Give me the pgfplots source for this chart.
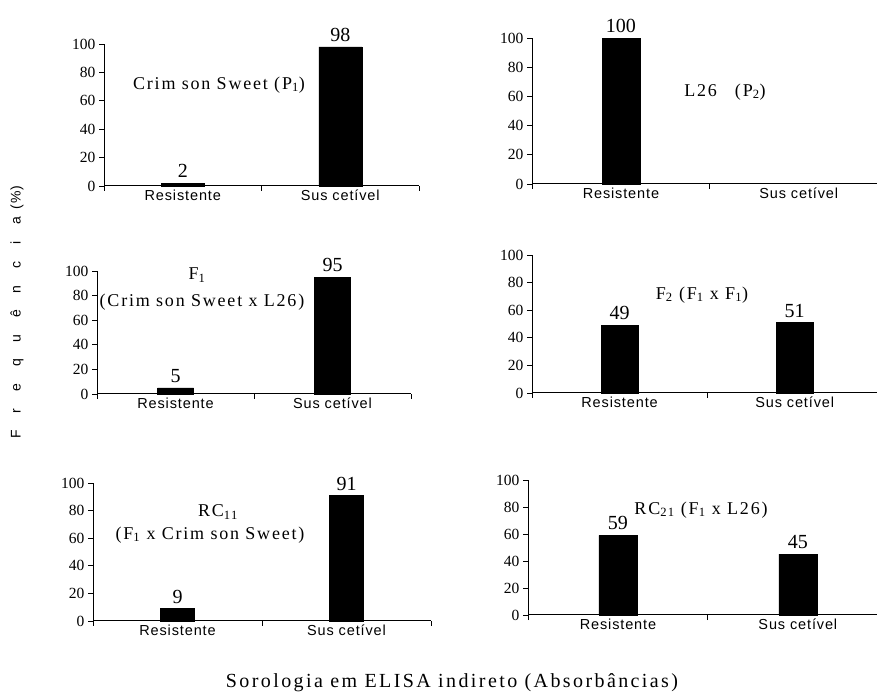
\documentclass[border=0pt]{standalone}
\usepackage{pgfplots}
\pgfplotsset{compat=1.18}
\usepackage{fontspec}
\setmainfont{Liberation Serif}
\newfontfamily\numfont{Liberation Serif}
\newfontfamily\notefont[LetterSpace=10]{Liberation Serif}
\newfontfamily\xtitlefont[LetterSpace=12]{Liberation Serif}
\newfontfamily\catfont[LetterSpace=6]{Liberation Sans}
\newfontfamily\ylabfont[LetterSpace=120]{Liberation Sans}
\newcommand\fs[1]{\fontsize{#1}{#1}\selectfont}

\pgfplotsset{
  panel/.style={
    scale only axis, anchor=south west,
    ymin=0, ymax=100, xmin=-0.5,
    axis x line=bottom, axis y line=left,
    x axis line style={-}, y axis line style={-},
    axis line style={line width=1pt},
    tick align=outside, major tick length=5pt,
    tick style={black, line width=0.9pt},
    ytick={0,20,...,100},
    xticklabels={},
    extra x ticks={0,1},
    extra x tick labels={Resistente,Sus cetível},
    extra x tick style={major tick length=0pt, tick style={draw=none}},
    xticklabel style={font=\catfont\fs{14.5}, inner sep=1pt, yshift=-3pt},
    yticklabel style={font=\numfont\fs{15.5}},
    /pgf/number format/assume math mode=true,
    ybar, bar width=40pt,
    nodes near coords,
    nodes near coords style={font=\numfont\fs{20}, inner sep=2pt, yshift=3pt},
    clip=false,
  },
  bars/.style={fill=black, draw=black},
}

\begin{document}
\begin{tikzpicture}[x=1pt, y=1pt]
\useasboundingbox (0,0) rectangle (877,695);

% Crimson Sweet (P1)
\begin{axis}[panel, at={(104pt,509pt)}, width=315pt, height=142pt,
  xmax=1.5, xtick={-0.5,0.5,1.5}, bar width=43pt]
  \addplot[bars] coordinates {(0,2) (1,98)};
\end{axis}

% L26 (P2)
\begin{axis}[panel, at={(532pt,511pt)}, width=345pt, height=146pt,
  xmax=1.44, xtick={-0.5,0.5}, bar width=38pt]
  \addplot[bars] coordinates {(0,100)};
\end{axis}

% F1
\begin{axis}[panel, at={(97pt,301pt)}, width=314pt, height=123pt,
  xmax=1.5, xtick={-0.5,0.5,1.5}, bar width=36pt]
  \addplot[bars] coordinates {(0,5) (1,95)};
\end{axis}

% F2
\begin{axis}[panel, at={(532pt,302pt)}, width=345pt, height=138pt,
  xmax=1.47, xtick={-0.5,0.5}, bar width=37pt]
  \addplot[bars] coordinates {(0,49) (1,51)};
\end{axis}

% RC11
\begin{axis}[panel, at={(93pt,74pt)}, width=338pt, height=138pt,
  xmax=1.5, xtick={-0.5,0.5,1.5}, bar width=34pt]
  \addplot[bars] coordinates {(0,9) (1,91)};
\end{axis}

% RC21
\begin{axis}[panel, at={(528pt,80pt)}, width=349pt, height=135pt,
  xmax=1.44, xtick={-0.5,0.5}, bar width=38pt]
  \addplot[bars] coordinates {(0,59) (1,45)};
\end{axis}

% panel titles
\node at (219,610) {\notefont\fs{18}Crim son Sweet (P\textsubscript{1})};
\node at (725,603) {\notefont\fs{18}L26\quad(P\textsubscript{2})};
\node at (197,420) {\notefont\fs{18}F\textsubscript{1}};
\node at (202,393) {\notefont\fs{18}(Crim son Sweet x L26)};
\node at (702,400) {\notefont\fs{18}F\textsubscript{2} (F\textsubscript{1} x F\textsubscript{1})};
\node at (218,183) {\notefont\fs{18}RC\textsubscript{11}};
\node at (210,160) {\notefont\fs{18}(F\textsubscript{1} x Crim son Sweet)};
\node at (701,185) {\notefont\fs{18}RC\textsubscript{21} (F\textsubscript{1} x L26)};

% shared axis titles
\node[rotate=90] at (17,383) {\ylabfont\fs{14}Frequência\hspace{8pt}{\catfont(\%)}};
\node at (452,12) {\xtitlefont\fs{20}Sorologia em ELISA indireto (Absorbâncias)};
\end{tikzpicture}
\end{document}
